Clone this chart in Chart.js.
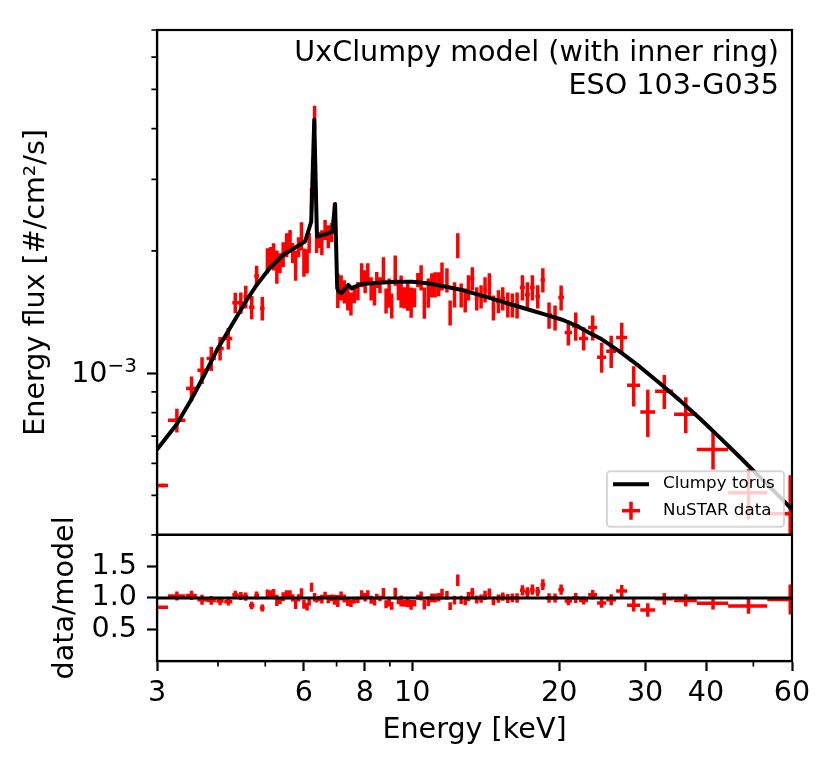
<!DOCTYPE html>
<html>
<head>
<meta charset="utf-8">
<title>UxClumpy model - ESO 103-G035</title>
<script src="https://cdn.jsdelivr.net/npm/chart.js@4.4.1/dist/chart.umd.min.js"></script>
<style>
  html, body { margin: 0; padding: 0; background: #fff; }
  #wrap { width: 830px; height: 768px; }
</style>
</head>
<body>
<div id="wrap"><canvas id="chart" width="830" height="768"></canvas></div>
<script>
// NuSTAR bins: centre energy [keV] and half width
const energy = [
  3.08, 3.295, 3.53, 3.71, 3.875, 4.04, 4.20, 4.34, 4.455, 4.56, 4.69, 4.80, 4.93,
  5.05, 5.13, 5.20, 5.28, 5.36, 5.44, 5.53, 5.62, 5.69, 5.77, 5.85, 5.93, 6.00, 6.09, 6.15, 6.22, 6.31,
  6.37, 6.44, 6.53, 6.63, 6.73, 6.84, 6.93,
  7.04, 7.15, 7.26, 7.38, 7.49, 7.61, 7.74, 7.88, 8.01, 8.11, 8.24, 8.37, 8.46, 8.59,
  8.73, 8.84, 8.97, 9.08, 9.23, 9.37, 9.49, 9.64, 9.79, 9.95, 10.11, 10.27, 10.43,
  10.59, 10.79, 10.97, 11.14, 11.33, 11.51, 11.78,
  11.96, 12.21, 12.40, 12.60, 12.84, 13.04, 13.28, 13.56, 13.84, 14.10, 14.39, 14.67,
  15.02, 15.33, 15.70, 16.04, 16.40, 16.82, 17.22, 17.63, 18.08, 18.52, 19.07, 19.62, 20.19,
  20.89, 21.63, 22.45, 23.43, 24.44, 25.57, 26.87, 28.43, 30.39, 32.85, 36.35, 41.34, 48.87, 59.5
];
const energyErr = [
  0.08, 0.135, 0.09, 0.08, 0.085, 0.07, 0.08, 0.06, 0.055, 0.05, 0.06, 0.055, 0.055,
  0.04, 0.04, 0.04, 0.04, 0.04, 0.04, 0.04, 0.04, 0.04, 0.04, 0.04, 0.04, 0.04, 0.04, 0.04, 0.04, 0.04,
  0.045, 0.045, 0.045, 0.045, 0.045, 0.045, 0.045,
  0.055, 0.055, 0.055, 0.055, 0.055, 0.055, 0.055, 0.065, 0.065, 0.065, 0.065, 0.065, 0.065, 0.065,
  0.07, 0.07, 0.07, 0.07, 0.07, 0.07, 0.07, 0.08, 0.08, 0.08, 0.08, 0.08, 0.08,
  0.09, 0.09, 0.09, 0.09, 0.09, 0.09, 0.09,
  0.1, 0.1, 0.1, 0.1, 0.1, 0.1, 0.13, 0.13, 0.13, 0.13, 0.13, 0.13,
  0.17, 0.17, 0.17, 0.17, 0.17, 0.2, 0.2, 0.2, 0.2, 0.2, 0.27, 0.27, 0.27,
  0.36, 0.37, 0.48, 0.5, 0.52, 0.6, 0.7, 0.87, 1.06, 1.4, 1.95, 3.05, 4.48, 6.1
];

// energy flux, in units of 1e-3 #/cm2/s
const FLUX_UNIT = 1e-3;
const fluxMilli = [
  0.529, 0.766, 0.917, 1.017, 1.087, 1.151, 1.218, 1.491, 1.491, 1.543, 1.453, 1.736, 1.444,
  1.896, 1.934, 1.940, 1.833, 1.869, 1.962, 2.070, 2.130, 1.979, 1.848, 2.047, 2.179, 1.879, 1.890, 2.094, 2.689, 4.262,
  2.070, 2.130, 2.100, 2.255, 2.173, 2.223, 2.414,
  1.603, 1.626, 1.589, 1.527, 1.484, 1.567, 1.594, 1.746, 1.683, 1.766, 1.617, 1.571, 1.697, 1.649,
  1.802, 1.510, 1.580, 1.468, 1.796, 1.594, 1.594, 1.536, 1.558, 1.497, 1.536, 1.697, 1.721,
  1.493, 1.580, 1.649, 1.654, 1.659, 1.736, 1.697,
  1.411, 1.563, 2.065, 1.558, 1.514, 1.626, 1.711, 1.527, 1.545, 1.608, 1.649, 1.451,
  1.502, 1.527, 1.476, 1.472, 1.472, 1.626, 1.563, 1.626, 1.545, 1.697, 1.390, 1.371, 1.536,
  1.259, 1.306, 1.217, 1.295, 1.095, 1.133, 1.224, 0.934, 0.803, 0.903, 0.792, 0.649, 0.508, 0.451
];
const fluxErrMilli = [
  0.006, 0.052, 0.065, 0.077, 0.075, 0.076, 0.075, 0.087, 0.090, 0.100, 0.096, 0.104, 0.096,
  0.135, 0.110, 0.149, 0.172, 0.106, 0.139, 0.141, 0.121, 0.113, 0.158, 0.116, 0.173, 0.150, 0.129, 0.119, 0.168, 0.291,
  0.094, 0.097, 0.149, 0.128, 0.142, 0.120, 0.206,
  0.155, 0.116, 0.104, 0.100, 0.097, 0.080, 0.082, 0.119, 0.110, 0.100, 0.106, 0.103, 0.077, 0.075,
  0.128, 0.107, 0.130, 0.104, 0.153, 0.082, 0.145, 0.092, 0.133, 0.128, 0.083, 0.068, 0.122,
  0.132, 0.130, 0.113, 0.118, 0.113, 0.138, 0.116,
  0.100, 0.111, 0.147, 0.106, 0.103, 0.116, 0.112, 0.100, 0.101, 0.114, 0.113, 0.103,
  0.098, 0.100, 0.105, 0.100, 0.109, 0.116, 0.111, 0.116, 0.101, 0.116, 0.103, 0.097, 0.109,
  0.089, 0.104, 0.080, 0.092, 0.093, 0.103, 0.108, 0.106, 0.107, 0.087, 0.081, 0.070, 0.072, 0.110
];

// data / model
const ratio = [
  0.85, 1.03, 1.04, 0.97, 0.96, 0.95, 0.94, 1.05, 1.03, 1.02, 0.88, 1.04, 0.84,
  1.06, 1.06, 1.06, 0.96, 0.96, 1.02, 1.05, 1.06, 1.00, 0.90, 1.00, 1.07, 0.90, 0.86, 0.93, 1.17, 1.01,
  0.97, 0.99, 0.98, 1.04, 0.98, 1.00, 0.97,
  0.95, 1.03, 0.99, 0.93, 0.915, 0.96, 0.97, 1.05, 1.01, 1.06, 0.97, 0.94, 1.02, 0.99,
  1.08, 0.90, 0.94, 0.875, 1.07, 0.95, 0.95, 0.915, 0.93, 0.89, 0.915, 1.01, 1.03,
  0.895, 0.95, 1.00, 1.00, 1.01, 1.06, 1.04,
  0.87, 0.965, 1.28, 0.97, 0.95, 1.02, 1.085, 0.975, 0.99, 1.04, 1.075, 0.95,
  0.99, 1.02, 0.99, 1.00, 1.00, 1.12, 1.09, 1.13, 1.10, 1.21, 1.00, 1.00, 1.13,
  0.95, 1.00, 0.96, 1.05, 0.92, 0.97, 1.11, 0.885, 0.81, 0.985, 0.96, 0.915, 0.87, 0.975
];
const ratioErr = [
  0.01, 0.07, 0.075, 0.08, 0.07, 0.065, 0.06, 0.065, 0.062, 0.066, 0.06, 0.063, 0.056,
  0.075, 0.06, 0.08, 0.09, 0.055, 0.07, 0.07, 0.06, 0.056, 0.077, 0.056, 0.083, 0.071, 0.059, 0.053, 0.072, 0.069,
  0.043, 0.044, 0.068, 0.058, 0.064, 0.054, 0.08,
  0.094, 0.07, 0.063, 0.06, 0.059, 0.048, 0.05, 0.072, 0.066, 0.06, 0.064, 0.062, 0.046, 0.045,
  0.077, 0.064, 0.078, 0.062, 0.092, 0.049, 0.087, 0.055, 0.08, 0.077, 0.05, 0.041, 0.073,
  0.08, 0.078, 0.068, 0.071, 0.068, 0.084, 0.071,
  0.062, 0.07, 0.092, 0.066, 0.065, 0.073, 0.071, 0.064, 0.065, 0.073, 0.074, 0.068,
  0.065, 0.067, 0.071, 0.068, 0.075, 0.08, 0.078, 0.082, 0.072, 0.084, 0.075, 0.071, 0.081,
  0.067, 0.079, 0.063, 0.074, 0.077, 0.088, 0.096, 0.10, 0.107, 0.094, 0.097, 0.098, 0.123, 0.237
];

// Clumpy torus model curve
const modelEnergy = [
  3.00, 3.29, 3.52, 3.73, 3.98, 4.27, 4.58, 4.80, 5.11, 5.44,
  5.80, 6.03, 6.12, 6.21, 6.30, 6.38, 6.73, 6.86, 6.95, 7.02,
  7.07, 7.16, 7.40, 7.51, 7.88, 8.55, 9.27, 10.0, 10.72, 11.73,
  12.72, 13.77, 14.92, 16.09, 17.43, 18.90, 20.37, 21.77, 23.13, 24.3,
  26.67, 29.3, 32.2, 35.4, 38.9, 42.8, 47.0, 51.7, 56.9, 60.0
];
const modelFluxMilli = [
  0.649, 0.748, 0.858, 0.977, 1.14, 1.314, 1.514, 1.649, 1.816, 1.955,
  2.05, 2.11, 2.23, 2.36, 4.21, 2.17, 2.21, 2.23, 2.61, 1.62,
  1.585, 1.575, 1.649, 1.617, 1.659, 1.669, 1.68, 1.68, 1.665, 1.633,
  1.60, 1.557, 1.514, 1.472, 1.431, 1.39, 1.352, 1.306, 1.255, 1.218,
  1.129, 1.036, 0.943, 0.856, 0.772, 0.692, 0.620, 0.553, 0.493, 0.462
];

const unityEnergy = [3, 60];
const unityRatio = [1, 1];

const xTickValues = [3, 6, 8, 10, 20, 30, 40, 60];
const xMinorTicks = [4, 5, 7, 9, 50];
const fluxTickValues = [1e-3];
const fluxTickBase = '10';
const fluxTickExp = '\u22123';
const fluxMinorTicks = [4e-4, 5e-4, 6e-4, 7e-4, 8e-4, 9e-4, 2e-3, 3e-3, 4e-3, 5e-3, 6e-3, 7e-3];
const ratioTickValues = [0.5, 1.0, 1.5];

const FONT = "'DejaVu Sans', sans-serif";
const RED = '#ff0000';
const BIG = 28.6;

// each bin becomes a vertical and a horizontal segment, split by gaps
function errorBars(xs, xErr, ys, yErr, unit) {
  const pts = [];
  xs.forEach((x, i) => {
    const y = ys[i] * unit, dy = yErr[i] * unit;
    pts.push({x: x, y: y - dy}, {x: x, y: y + dy}, {x: x, y: null});
    pts.push({x: x - xErr[i], y: y}, {x: x + xErr[i], y: y}, {x: x + xErr[i], y: null});
  });
  return pts;
}

const modelPts = modelEnergy.map((e, i) => ({x: e, y: modelFluxMilli[i] * FLUX_UNIT}));
const unityPts = unityEnergy.map((e, i) => ({x: e, y: unityRatio[i]}));

const panelDecor = {
  id: 'panelDecor',
  beforeDatasetDraw(chart, args) {
    const ys = chart.scales[args.meta.yAxisID];
    const a = chart.chartArea;
    chart.ctx.save();
    chart.ctx.beginPath();
    chart.ctx.rect(a.left, ys.top, a.right - a.left, ys.bottom - ys.top);
    chart.ctx.clip();
  },
  afterDatasetDraw(chart) {
    chart.ctx.restore();
  },
  afterDraw(chart) {
    const {ctx, chartArea: a, scales} = chart;
    const yT = scales.y, yB = scales.y2, xs = scales.x;
    ctx.save();

    // panel frames
    ctx.strokeStyle = '#000';
    ctx.lineWidth = 2.2;
    ctx.strokeRect(a.left, yT.top, a.right - a.left, yT.bottom - yT.top);
    ctx.strokeRect(a.left, yB.top, a.right - a.left, yB.bottom - yB.top);

    // minor ticks
    ctx.lineWidth = 1.7;
    ctx.beginPath();
    xMinorTicks.forEach(v => {
      const px = xs.getPixelForValue(v);
      ctx.moveTo(px, yB.bottom);
      ctx.lineTo(px, yB.bottom + 5.6);
    });
    fluxMinorTicks.forEach(v => {
      const py = yT.getPixelForValue(v);
      ctx.moveTo(a.left, py);
      ctx.lineTo(a.left - 5.6, py);
    });
    ctx.stroke();

    // flux tick label with a raised exponent, like 10^-3
    ctx.fillStyle = '#000';
    ctx.textBaseline = 'alphabetic';
    ctx.textAlign = 'right';
    const ty = yT.getPixelForValue(fluxTickValues[0]);
    const labelRight = a.left - 20;
    ctx.font = '20px ' + FONT;
    const expW = ctx.measureText(fluxTickExp).width;
    ctx.fillText(fluxTickExp, labelRight, ty - 1.5);
    ctx.font = BIG + 'px ' + FONT;
    ctx.fillText(fluxTickBase, labelRight - expW, ty + 9);

    // annotation
    ctx.fillText('UxClumpy model (with inner ring)', a.right - 13, yT.top + 31);
    ctx.fillText('ESO 103-G035', a.right - 13, yT.top + 64);

    // legend, lower right of the top panel
    const bw = 177, bh = 55.5;
    const bx = a.right - 8 - bw, by = yT.bottom - 8 - bh;
    ctx.beginPath();
    ctx.roundRect(bx, by, bw, bh, 3.3);
    ctx.fillStyle = 'rgba(255,255,255,0.8)';
    ctx.fill();
    ctx.strokeStyle = 'rgba(204,204,204,0.8)';
    ctx.lineWidth = 2;
    ctx.stroke();

    const row1 = by + 13, row2 = by + 39.5, hx = bx + 24;
    ctx.lineCap = 'butt';
    ctx.strokeStyle = '#000';
    ctx.lineWidth = 4;
    ctx.beginPath();
    ctx.moveTo(bx + 6, row1);
    ctx.lineTo(bx + 42, row1);
    ctx.stroke();
    ctx.strokeStyle = RED;
    ctx.lineWidth = 3.5;
    ctx.beginPath();
    ctx.moveTo(hx - 9, row2);
    ctx.lineTo(hx + 9, row2);
    ctx.moveTo(hx, row2 - 9);
    ctx.lineTo(hx, row2 + 9);
    ctx.stroke();

    ctx.fillStyle = '#000';
    ctx.font = '16.7px ' + FONT;
    ctx.textAlign = 'left';
    ctx.textBaseline = 'middle';
    ctx.fillText('Clumpy torus', bx + 56, row1 - 1);
    ctx.fillText('NuSTAR data', bx + 56, row2);
    ctx.restore();
  }
};

const tickFont = {family: FONT, size: BIG};
const axisGrid = {drawOnChartArea: false, tickLength: 10, tickWidth: 2.2, tickColor: '#000'};
const axisBorder = {display: true, color: '#000', width: 2.2};

new Chart(document.getElementById('chart'), {
  type: 'scatter',
  data: {
    datasets: [
      {
        label: 'Clumpy torus', data: modelPts, yAxisID: 'y',
        showLine: true, borderColor: '#000', borderWidth: 4, pointRadius: 0,
        borderJoinStyle: 'round', tension: 0
      },
      {
        label: 'unity', data: unityPts, yAxisID: 'y2',
        showLine: true, borderColor: '#000', borderWidth: 3, pointRadius: 0
      },
      {
        label: 'NuSTAR data', data: errorBars(energy, energyErr, fluxMilli, fluxErrMilli, FLUX_UNIT), yAxisID: 'y',
        showLine: true, spanGaps: false, borderColor: RED, borderWidth: 3.5, pointRadius: 0, borderCapStyle: 'butt'
      },
      {
        label: 'ratio', data: errorBars(energy, energyErr, ratio, ratioErr, 1), yAxisID: 'y2',
        showLine: true, spanGaps: false, borderColor: RED, borderWidth: 3.5, pointRadius: 0, borderCapStyle: 'butt'
      }
    ]
  },
  options: {
    responsive: false,
    animation: false,
    devicePixelRatio: 1,
    events: [],
    layout: {padding: {top: 30, right: 38, bottom: 0, left: 0}},
    plugins: {legend: {display: false}, tooltip: {enabled: false}},
    scales: {
      x: {
        type: 'logarithmic', position: 'bottom', min: 3, max: 60, bounds: 'data',
        afterBuildTicks: s => { s.ticks = xTickValues.map(v => ({value: v})); },
        afterFit: s => { s.height = 107; s.paddingLeft = 0; s.paddingRight = 0; },
        ticks: {autoSkip: false, maxRotation: 0, minRotation: 0, padding: 5, color: '#000', font: tickFont,
                callback: v => String(v)},
        grid: axisGrid,
        border: axisBorder,
        title: {display: true, text: 'Energy [keV]', color: '#000', font: tickFont, padding: {top: 0, bottom: 20.5}}
      },
      // listed before the flux axis so that the layout stacks it underneath
      y2: {
        type: 'linear', position: 'left', stack: 'panels', stackWeight: 1,
        min: 0, max: 2, bounds: 'data',
        afterBuildTicks: s => { s.ticks = ratioTickValues.map(v => ({value: v})); },
        afterFit: s => { s.width = 157; s.paddingTop = 0; s.paddingBottom = 0; },
        ticks: {autoSkip: false, padding: 10, color: '#000', font: tickFont, callback: v => v.toFixed(1)},
        grid: axisGrid,
        border: axisBorder,
        title: {display: true, text: 'data/model', color: '#000', font: tickFont,
                padding: {top: 48, bottom: 0}}
      },
      y: {
        type: 'logarithmic', position: 'left', stack: 'panels', stackWeight: 4,
        min: 4e-4, max: 7e-3, bounds: 'data',
        afterBuildTicks: s => { s.ticks = fluxTickValues.map(v => ({value: v})); },
        afterFit: s => { s.width = 157; s.paddingTop = 0; s.paddingBottom = 0; },
        // the label itself is drawn by panelDecor so the exponent can be raised
        ticks: {autoSkip: false, padding: 10, color: '#000', font: tickFont, callback: () => ''},
        grid: axisGrid,
        border: axisBorder,
        title: {display: true, text: 'Energy flux [#/cm\u00B2/s]', color: '#000', font: tickFont,
                padding: {top: 19, bottom: 0}}
      }
    }
  },
  plugins: [panelDecor]
});
</script>
</body>
</html>
